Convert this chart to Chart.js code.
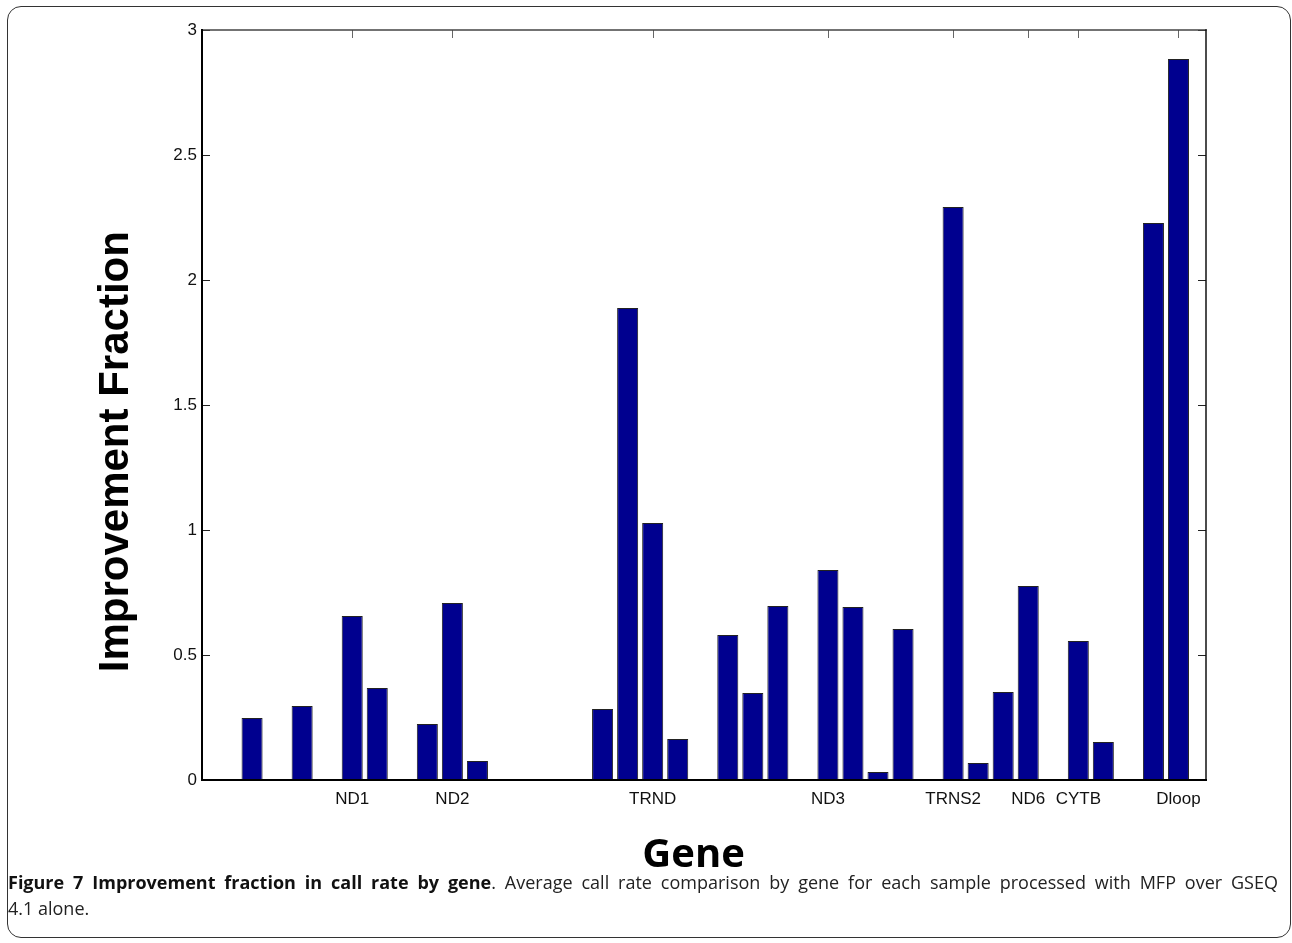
<!DOCTYPE html>
<html>
<head>
<meta charset="utf-8">
<script src="https://cdn.jsdelivr.net/npm/chart.js@4.4.1/dist/chart.umd.min.js"></script>
<style>
  html, body { margin: 0; padding: 0; background: #fff; }
  #wrap { position: relative; width: 1292px; height: 943px; overflow: hidden; }
  #frame { position: absolute; left: 7px; top: 6px; width: 1284px; height: 932px;
           border: 1.6px solid #333; border-radius: 14px; box-sizing: border-box; }
  canvas { position: absolute; left: 0; top: 0; }
  #caption { position: absolute; left: 8px; top: 869px; width: 1270px;
             font-family: "Open Sans", sans-serif; font-size: 18px; line-height: 26px; color: #222; }
  #caption .l1 { text-align: justify; text-align-last: justify; white-space: nowrap; }
  #caption b { font-weight: 700; color: #111; }
</style>
</head>
<body>
<div id="wrap">
  <div id="frame"></div>
  <canvas id="c" width="1292" height="943"></canvas>
  <div id="caption">
    <div class="l1"><b>Figure 7 Improvement fraction in call rate by gene</b>. Average call rate comparison by gene for each sample processed with MFP over GSEQ</div>
    <div>4.1 alone.</div>
  </div>
</div>
<script>
// ---- data ----
const barPositions = [2, 4, 6, 7, 9, 10, 11, 16, 17, 18, 19, 21, 22, 23, 25, 26, 27, 28, 30, 31, 32, 33, 35, 36, 38, 39];
const improvementFraction = [0.248, 0.296, 0.656, 0.368, 0.224, 0.708, 0.076, 0.284, 1.888, 1.028, 0.164, 0.580, 0.348, 0.696, 0.840, 0.692, 0.032, 0.604, 2.292, 0.068, 0.352, 0.776, 0.556, 0.152, 2.228, 2.884];
const geneTickPositions = [6, 10, 18, 25, 30, 33, 35, 39];
const geneTickLabels = ['ND1', 'ND2', 'TRND', 'ND3', 'TRNS2', 'ND6', 'CYTB', 'Dloop'];
const yTickValues = [0, 0.5, 1, 1.5, 2, 2.5, 3];
const yTickLabels = ['0', '0.5', '1', '1.5', '2', '2.5', '3'];
const xLimits = [0, 40.1];
const yLimits = [0, 3];

const points = barPositions.map((p, i) => ({ x: p, y: improvementFraction[i] }));

const boxAndTicks = {
  id: 'boxAndTicks',
  beforeDatasetsDraw(chart) {
    const { ctx, chartArea: a, scales } = chart;
    ctx.save();
    ctx.lineWidth = 1;
    ctx.strokeStyle = '#222';
    yTickValues.forEach(v => {
      const py = Math.round(scales.y.getPixelForValue(v)) + 0.5;
      ctx.beginPath(); ctx.moveTo(a.left, py); ctx.lineTo(a.left + 8, py); ctx.stroke();
      ctx.beginPath(); ctx.moveTo(a.right - 8, py); ctx.lineTo(a.right, py); ctx.stroke();
    });
    ctx.strokeStyle = '#666';
    geneTickPositions.forEach(v => {
      const px = Math.round(scales.x.getPixelForValue(v)) + 0.5;
      ctx.beginPath(); ctx.moveTo(px, a.top); ctx.lineTo(px, a.top + 8); ctx.stroke();
      ctx.beginPath(); ctx.moveTo(px, a.bottom); ctx.lineTo(px, a.bottom - 8); ctx.stroke();
    });
    ctx.restore();
  },
  afterDatasetsDraw(chart) {
    const { ctx, chartArea: a } = chart;
    ctx.save();
    ctx.lineCap = 'square';
    ctx.strokeStyle = '#444'; ctx.lineWidth = 1.5;
    ctx.beginPath(); ctx.moveTo(a.left, a.top); ctx.lineTo(a.right, a.top); ctx.stroke();
    ctx.strokeStyle = '#111'; ctx.lineWidth = 1.5;
    ctx.beginPath(); ctx.moveTo(a.right, a.top); ctx.lineTo(a.right, a.bottom); ctx.stroke();
    ctx.strokeStyle = '#000'; ctx.lineWidth = 2;
    ctx.beginPath(); ctx.moveTo(a.left, a.top); ctx.lineTo(a.left, a.bottom); ctx.stroke();
    ctx.beginPath(); ctx.moveTo(a.left, a.bottom); ctx.lineTo(a.right, a.bottom); ctx.stroke();
    ctx.restore();
  }
};

new Chart(document.getElementById('c'), {
  type: 'bar',
  data: {
    datasets: [{
      data: points,
      backgroundColor: '#00008f',
      borderColor: '#222',
      borderWidth: 1,
      borderSkipped: false,
      categoryPercentage: 1,
      barPercentage: 0.84
    }]
  },
  options: {
    responsive: false,
    devicePixelRatio: 1,
    animation: false,
    events: [],
    layout: { padding: { left: 0, top: 30, right: 86, bottom: 63 } },
    plugins: { legend: { display: false }, tooltip: { enabled: false } },
    scales: {
      x: {
        type: 'linear',
        min: xLimits[0], max: xLimits[1],
        offset: false,
        grid: { display: false, offset: false, drawTicks: false },
        border: { display: false },
        afterBuildTicks: s => { s.ticks = geneTickPositions.map(v => ({ value: v })); },
        afterFit: s => { s.height = 100; },
        ticks: {
          autoSkip: false, maxRotation: 0, minRotation: 0, padding: 9,
          color: '#111',
          font: { family: 'Liberation Sans', size: 17 },
          callback: v => geneTickLabels[geneTickPositions.indexOf(v)]
        },
        title: {
          display: true,
          text: 'Gene\u00A0\u00A0',
          color: '#000',
          font: { family: 'Open Sans', size: 40, weight: 'bold' },
          padding: { top: 0, bottom: 0 }
        }
      },
      y: {
        min: yLimits[0], max: yLimits[1],
        grid: { display: false, drawTicks: false },
        border: { display: false },
        afterBuildTicks: s => { s.ticks = yTickValues.map(v => ({ value: v })); },
        afterFit: s => { s.width = 202; },
        ticks: {
          padding: 5,
          color: '#111',
          font: { family: 'Liberation Sans', size: 17 },
          callback: v => yTickLabels[yTickValues.indexOf(v)]
        },
        title: {
          display: true,
          text: 'Improvement Fraction' + '\u00A0'.repeat(8),
          color: '#000',
          font: { family: 'Liberation Sans', size: 42, weight: 'bold' },
          padding: { top: 91, bottom: 0 }
        }
      }
    }
  },
  plugins: [boxAndTicks]
});
</script>
</body>
</html>
